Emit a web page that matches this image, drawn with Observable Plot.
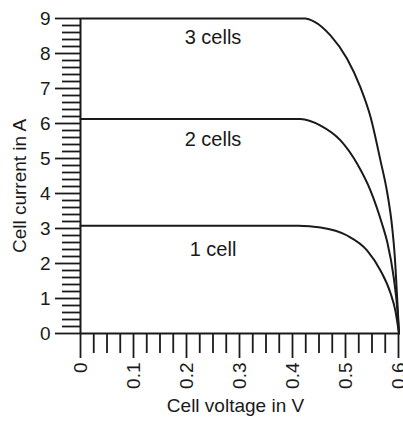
<!DOCTYPE html>
<html>
<head>
<meta charset="utf-8">
<script src="https://cdn.jsdelivr.net/npm/d3@7"></script>
<script src="https://cdn.jsdelivr.net/npm/@observablehq/plot@0.6"></script>
<style>
  html, body { margin: 0; padding: 0; background: #fff; }
  svg { font-family: "Liberation Sans", Arial, sans-serif; }
</style>
</head>
<body>
<div id="chart"></div>
<script>
// Series
const v1 = [0, 0.411, 0.453, 0.503, 0.541, 0.566, 0.585, 0.594, 0.599, 0.601];
const i1 = [3.08, 3.08, 3.03, 2.8, 2.37, 1.8, 1.15, 0.66, 0.2, 0];
const v2 = [0, 0.415, 0.453, 0.491, 0.522, 0.547, 0.569, 0.579, 0.591, 0.598, 0.601];
const i2 = [6.13, 6.13, 5.94, 5.51, 4.85, 4.09, 3.13, 2.6, 1.6, 0.66, 0];
const v3 = [0, 0.424, 0.44, 0.472, 0.503, 0.528, 0.547, 0.566, 0.579, 0.588, 0.593, 0.598, 0.601];
const i3 = [9.0, 9.0, 8.92, 8.51, 7.85, 7.04, 6.2, 4.94, 4.0, 3.04, 2.2, 0.86, 0];

const seriesNames = ["1 cell", "2 cells", "3 cells"];
const labelV = [0.25, 0.25, 0.25];
const labelI = [2.4, 5.54, 8.46];

const xMajor = [0, 0.1, 0.2, 0.3, 0.4, 0.5, 0.6];
const xMinor = [0.025, 0.05, 0.075, 0.125, 0.15, 0.175, 0.225, 0.25, 0.275, 0.325, 0.35, 0.375, 0.425, 0.45, 0.475, 0.525, 0.55, 0.575];
const yMajor = [0, 1, 2, 3, 4, 5, 6, 7, 8, 9];
const yMinor = [0.2,0.4,0.6,0.8,1.2,1.4,1.6,1.8,2.2,2.4,2.6,2.8,3.2,3.4,3.6,3.8,4.2,4.4,4.6,4.8,5.2,5.4,5.6,5.8,6.2,6.4,6.6,6.8,7.2,7.4,7.6,7.8,8.2,8.4,8.6,8.8];

const xLabel = "Cell voltage in V";
const yLabel = "Cell current in A";

const rows = [];
[[v1, i1], [v2, i2], [v3, i3]].forEach(([vs, is], k) => {
  vs.forEach((v, j) => rows.push({series: seriesNames[k], v, i: is[j]}));
});
const labels = seriesNames.map((s, k) => ({s, v: labelV[k], i: labelI[k]}));

const ink = "#1a1a1a";
const chart = Plot.plot({
  width: 403,
  height: 421,
  marginTop: 18,
  marginBottom: 88,
  marginLeft: 80,
  marginRight: 5,
  x: {domain: [0, 0.6]},
  y: {domain: [0, 9]},
  style: {fontFamily: "Liberation Sans, Arial, sans-serif", color: ink, background: "#fff"},
  marks: [
    Plot.axisY({ticks: yMinor, tickSize: 18, text: null, label: null, strokeWidth: 1.8}),
    Plot.axisY({ticks: yMajor, tickSize: 25, tickPadding: 5, tickFormat: d => String(d), label: null, fontSize: 19, strokeWidth: 1.8}),
    Plot.axisX({ticks: xMinor, tickSize: 20, text: null, label: null, strokeWidth: 1.8}),
    Plot.axisX({ticks: xMajor, tickSize: 25, tickPadding: 4, tickRotate: -90, tickFormat: d => String(d), label: null, fontSize: 19, strokeWidth: 1.8}),
    Plot.ruleX([0], {stroke: ink, strokeWidth: 2}),
    Plot.ruleY([0], {stroke: ink, strokeWidth: 2}),
    Plot.line(rows, {x: "v", y: "i", z: "series", stroke: ink, strokeWidth: 2, curve: "monotone-x"}),
    Plot.text(labels, {x: "v", y: "i", text: "s", fontSize: 20, fill: ink}),
    Plot.text([xLabel], {frameAnchor: "bottom", textAnchor: "middle", lineAnchor: "middle", dx: -4, dy: 72, fontSize: 19, fill: ink}),
    Plot.text([yLabel], {frameAnchor: "left", textAnchor: "middle", lineAnchor: "middle", dx: -61, dy: 10, rotate: -90, fontSize: 19, fill: ink})
  ]
});
document.getElementById("chart").appendChild(chart);
</script>
</body>
</html>
